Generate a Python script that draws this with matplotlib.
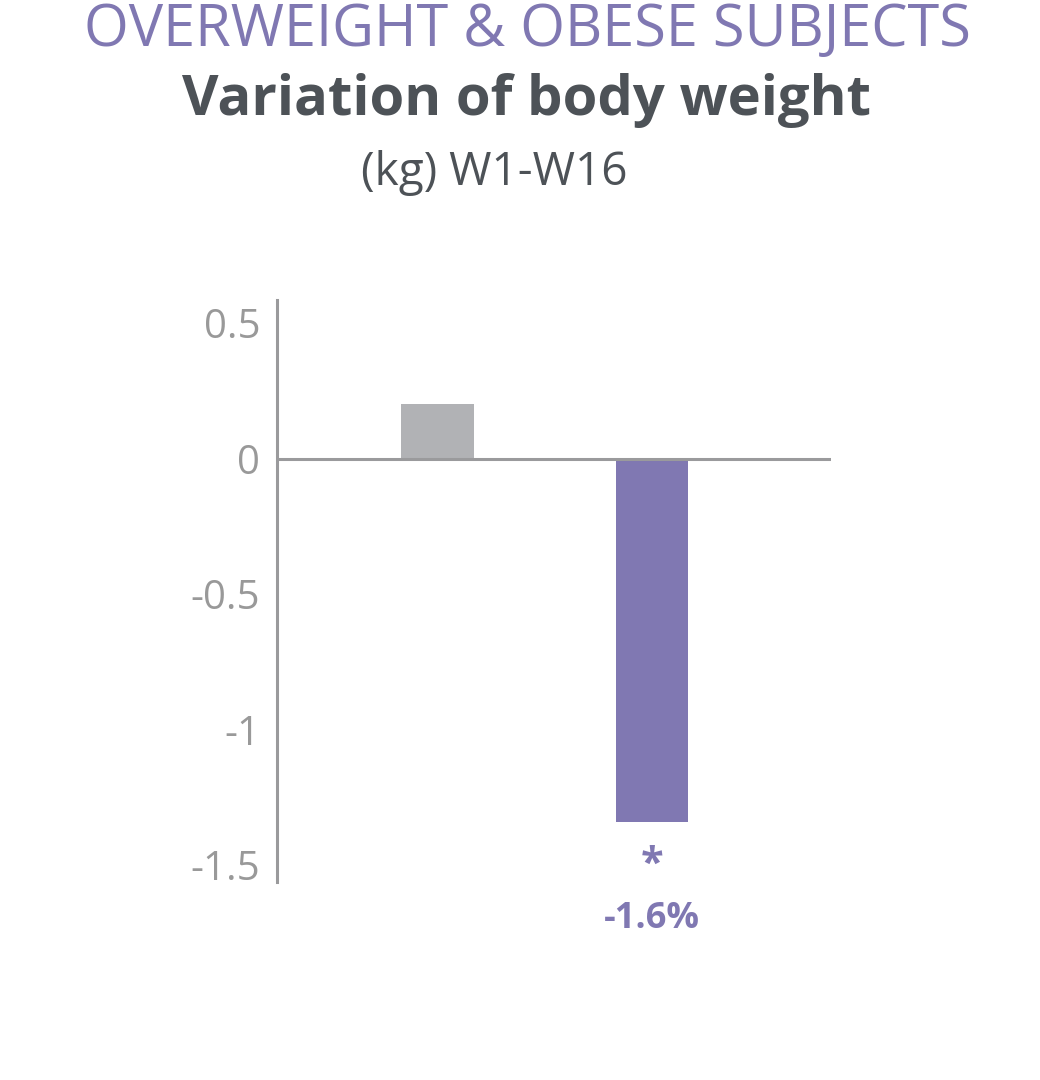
import matplotlib
matplotlib.use("Agg")
import matplotlib.pyplot as plt

categories = ["Placebo", "Active"]
values = [0.20, -1.34]
bar_colors = ["#b1b2b5", "#8078b2"]
yticks = [0.5, 0, -0.5, -1, -1.5]
ytick_labels = ["0.5", "0", "-0.5", "-1", "-1.5"]
title_top = "OVERWEIGHT & OBESE SUBJECTS"
title_main = "Variation of body weight"
subtitle = "(kg) W1-W16"
star_text = "*"
pct_text = "-1.6%"

plt.rcParams['font.family'] = ['Open Sans', 'DejaVu Sans']

W, H = 1040, 1080
fig = plt.figure(figsize=(W/100, H/100), dpi=100)

ax_left, ax_right = 277, 831
ax_top, ax_bottom = 300, 882
ax = fig.add_axes([ax_left/W, 1-ax_bottom/H, (ax_right-ax_left)/W, (ax_bottom-ax_top)/H])

x = list(range(len(categories)))
ax.bar(x, values, width=0.336, color=bar_colors, zorder=2)
ax.set_xlim(-0.748, 1.834)
ax.set_ylim(-1.563, 0.585)
ax.axhline(0, color="#9a9a9c", lw=2.2, zorder=3)

for s in ["top", "right", "bottom"]:
    ax.spines[s].set_visible(False)
ax.spines["left"].set_color("#9a9a9c")
ax.spines["left"].set_linewidth(2.2)
ax.set_xticks([])
ax.set_yticks(yticks)
ax.set_yticklabels(ytick_labels)
ax.tick_params(axis="y", length=0, pad=12, labelsize=29, labelcolor="#999999")

ax.text(1, -1.50, star_text, ha="center", va="center", fontsize=30, fontweight="bold", color="#8078b2")
ax.text(1, -1.70, pct_text, ha="center", va="center", fontsize=26, fontweight="bold", color="#8078b2", clip_on=False)

fig.text(527/W, 1-46/H, title_top, ha="center", va="baseline", fontsize=41.5, fontweight="normal", color="#8078b2")
fig.text(527/W, 1-101/H, title_main, ha="center", va="center", fontsize=40.5, fontweight="bold", color="#4d5257")
fig.text(494/W, 1-173/H, subtitle, ha="center", va="center", fontsize=33, color="#4d5257")

fig.savefig("out.png", dpi=100)
